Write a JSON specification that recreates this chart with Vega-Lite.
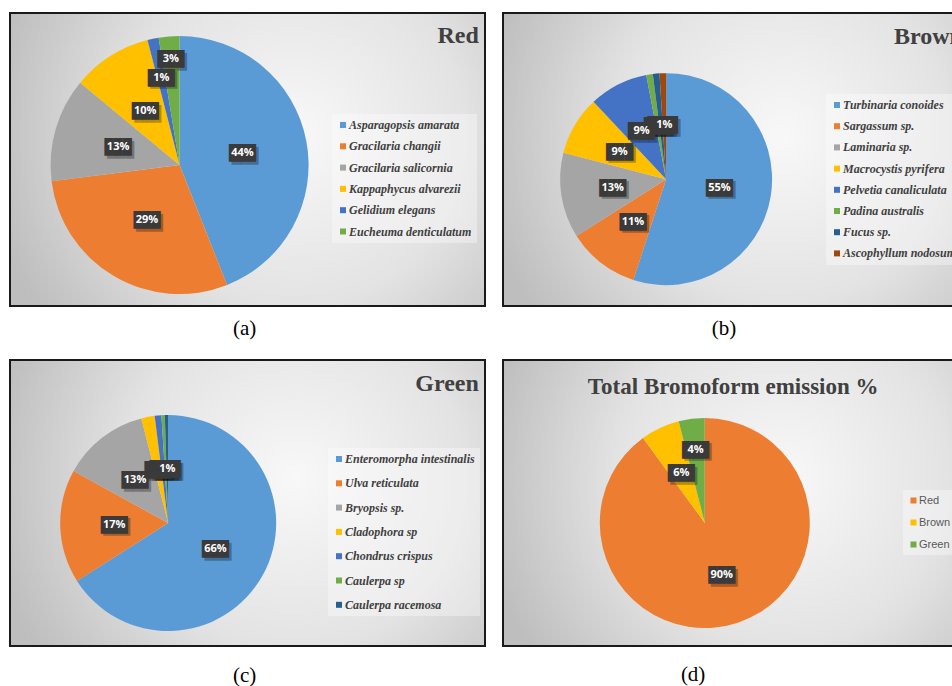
{
  "$schema": "https://vega.github.io/schema/vega-lite/v6.json",
  "padding": {"left": 9, "top": 12, "right": 0, "bottom": 0},
  "bounds": "flush",
  "columns": 2,
  "spacing": {"row": 54, "column": 18},
  "background": "white",
  "resolve": {"scale": {"color": "independent", "theta": "independent", "x": "independent", "y": "independent"}, "legend": {"color": "independent"}},
  "config": {
    "view": {"stroke": "#1a1a1a", "strokeWidth": 2,
      "fill": {"gradient": "radial", "x1": 0.6, "y1": 0.45, "x2": 0.6, "y2": 0.45, "r1": 0, "r2": 0.65,
        "stops": [{"offset": 0, "color": "#f8f8f8"}, {"offset": 0.55, "color": "#e3e3e3"}, {"offset": 1, "color": "#bebebe"}]}},
    "legend": {"orient": "none", "title": null, "labelFont": "Liberation Serif", "labelFontStyle": "italic", "labelFontWeight": "bold", "labelFontSize": 12, "labelColor": "#404040", "symbolType": "square", "symbolSize": 36, "symbolStrokeWidth": 0, "padding": 5, "fillColor": "rgba(255,255,255,0.35)", "labelOffset": 0, "labelLimit": 300}
  },
  "concat": [
        {
          "width": 475, "height": 293,
          "data": {"values": [
            {"i": 1, "name": "Asparagopsis amarata", "v": 0.44},
            {"i": 2, "name": "Gracilaria changii", "v": 0.29},
            {"i": 3, "name": "Gracilaria salicornia", "v": 0.13},
            {"i": 4, "name": "Kappaphycus alvarezii", "v": 0.10},
            {"i": 5, "name": "Gelidium elegans", "v": 0.014},
            {"i": 6, "name": "Eucheuma denticulatum", "v": 0.026}
          ]},
          "layer": [
            {"mark": {"type": "arc", "outerRadius": 129},
             "encoding": {
               "x": {"datum": 0.357, "type": "quantitative", "scale": {"domain": [0, 1]}, "axis": null},
               "y": {"datum": 0.519, "type": "quantitative", "scale": {"domain": [0, 1], "reverse": true}, "axis": null},
               "theta": {"field": "v", "type": "quantitative", "stack": true},
               "order": {"field": "i", "type": "quantitative"},
               "color": {"field": "name", "type": "nominal",
                 "scale": {"domain": ["Asparagopsis amarata", "Gracilaria changii", "Gracilaria salicornia", "Kappaphycus alvarezii", "Gelidium elegans", "Eucheuma denticulatum"],
                           "range": ["#5B9BD5", "#ED7D31", "#A5A5A5", "#FFC000", "#4472C4", "#70AD47"]},
                 "legend": {"legendX": 322, "legendY": 101, "rowPadding": 9.3}}
             }},
            {"mark": {"type": "text", "radius": {"expr": "datum.v < 0.02 ? 89 : datum.v < 0.05 ? 106 : 64"}, "font": "DejaVu Sans Mono", "fontSize": 15, "color": "rgba(0,0,0,0.28)", "dx": 2.5, "dy": 2.5, "align": "center", "baseline": "middle"},
             "encoding": {
               "x": {"datum": 0.357, "type": "quantitative", "scale": {"domain": [0, 1]}, "axis": null},
               "y": {"datum": 0.519, "type": "quantitative", "scale": {"domain": [0, 1], "reverse": true}, "axis": null},
               "theta": {"field": "v", "type": "quantitative", "stack": true},
               "order": {"field": "i", "type": "quantitative"},
               "text": {"value": "███"}
             }},
            {"mark": {"type": "text", "radius": {"expr": "datum.v < 0.02 ? 89 : datum.v < 0.05 ? 106 : 64"}, "font": "DejaVu Sans Mono", "fontSize": 15, "color": "#3a3a3a", "align": "center", "baseline": "middle"},
             "encoding": {
               "x": {"datum": 0.357, "type": "quantitative", "scale": {"domain": [0, 1]}, "axis": null},
               "y": {"datum": 0.519, "type": "quantitative", "scale": {"domain": [0, 1], "reverse": true}, "axis": null},
               "theta": {"field": "v", "type": "quantitative", "stack": true},
               "order": {"field": "i", "type": "quantitative"},
               "text": {"value": "███"}
             }},
            {"mark": {"type": "text", "radius": {"expr": "datum.v < 0.02 ? 89 : datum.v < 0.05 ? 106 : 64"}, "font": "Open Sans", "fontWeight": "bold", "fontSize": 11, "color": "#ffffff", "align": "center", "baseline": "middle"},
             "encoding": {
               "x": {"datum": 0.357, "type": "quantitative", "scale": {"domain": [0, 1]}, "axis": null},
               "y": {"datum": 0.519, "type": "quantitative", "scale": {"domain": [0, 1], "reverse": true}, "axis": null},
               "theta": {"field": "v", "type": "quantitative", "stack": true},
               "order": {"field": "i", "type": "quantitative"},
               "text": {"field": "v", "type": "quantitative", "format": ".0%"}
             }},
            {"data": {"values": [{"t": "Red"}]},
             "mark": {"type": "text", "font": "Liberation Serif", "fontWeight": "bold", "fontSize": 24, "color": "#404040", "align": "right", "baseline": "alphabetic"},
             "encoding": {
               "x": {"datum": 0.987, "type": "quantitative", "scale": {"domain": [0, 1]}, "axis": null},
               "y": {"datum": 0.101, "type": "quantitative", "scale": {"domain": [0, 1], "reverse": true}, "axis": null},
               "text": {"field": "t"}
             }},
            {"data": {"values": [{"t": "(a)"}]},
             "mark": {"type": "text", "font": "Liberation Serif", "fontSize": 21, "color": "#000000", "align": "center", "baseline": "middle"},
             "encoding": {
               "x": {"datum": 0.494, "type": "quantitative", "scale": {"domain": [0, 1]}, "axis": null},
               "y": {"datum": 1.08, "type": "quantitative", "scale": {"domain": [0, 1], "reverse": true}, "axis": null},
               "text": {"field": "t"}
             }}
          ]
        },
        {
          "width": 466, "height": 293,
          "data": {"values": [
            {"i": 1, "name": "Turbinaria conoides", "v": 0.55},
            {"i": 2, "name": "Sargassum sp.", "v": 0.11},
            {"i": 3, "name": "Laminaria sp.", "v": 0.13},
            {"i": 4, "name": "Macrocystis pyrifera", "v": 0.09},
            {"i": 5, "name": "Pelvetia canaliculata", "v": 0.09},
            {"i": 6, "name": "Padina australis", "v": 0.01},
            {"i": 7, "name": "Fucus sp.", "v": 0.01},
            {"i": 8, "name": "Ascophyllum nodosum", "v": 0.01}
          ]},
          "layer": [
            {"mark": {"type": "arc", "outerRadius": 106},
             "encoding": {
               "x": {"datum": 0.350, "type": "quantitative", "scale": {"domain": [0, 1]}, "axis": null},
               "y": {"datum": 0.567, "type": "quantitative", "scale": {"domain": [0, 1], "reverse": true}, "axis": null},
               "theta": {"field": "v", "type": "quantitative", "stack": true},
               "order": {"field": "i", "type": "quantitative"},
               "color": {"field": "name", "type": "nominal",
                 "scale": {"domain": ["Turbinaria conoides", "Sargassum sp.", "Laminaria sp.", "Macrocystis pyrifera", "Pelvetia canaliculata", "Padina australis", "Fucus sp.", "Ascophyllum nodosum"],
                           "range": ["#5B9BD5", "#ED7D31", "#A5A5A5", "#FFC000", "#4472C4", "#70AD47", "#255E91", "#9E480E"]},
                 "legend": {"legendX": 323, "legendY": 81, "rowPadding": 9.2}}
             }},
            {"mark": {"type": "text", "radius": 54, "font": "DejaVu Sans Mono", "fontSize": 15, "color": "rgba(0,0,0,0.28)", "dx": 2.5, "dy": 2.5, "align": "center", "baseline": "middle"},
             "encoding": {
               "x": {"datum": 0.350, "type": "quantitative", "scale": {"domain": [0, 1]}, "axis": null},
               "y": {"datum": 0.567, "type": "quantitative", "scale": {"domain": [0, 1], "reverse": true}, "axis": null},
               "theta": {"field": "v", "type": "quantitative", "stack": true},
               "order": {"field": "i", "type": "quantitative"},
               "text": {"value": "███"}
             }},
            {"mark": {"type": "text", "radius": 54, "font": "DejaVu Sans Mono", "fontSize": 15, "color": "#3a3a3a", "align": "center", "baseline": "middle"},
             "encoding": {
               "x": {"datum": 0.350, "type": "quantitative", "scale": {"domain": [0, 1]}, "axis": null},
               "y": {"datum": 0.567, "type": "quantitative", "scale": {"domain": [0, 1], "reverse": true}, "axis": null},
               "theta": {"field": "v", "type": "quantitative", "stack": true},
               "order": {"field": "i", "type": "quantitative"},
               "text": {"value": "███"}
             }},
            {"mark": {"type": "text", "radius": 54, "font": "Open Sans", "fontWeight": "bold", "fontSize": 11, "color": "#ffffff", "align": "center", "baseline": "middle"},
             "encoding": {
               "x": {"datum": 0.350, "type": "quantitative", "scale": {"domain": [0, 1]}, "axis": null},
               "y": {"datum": 0.567, "type": "quantitative", "scale": {"domain": [0, 1], "reverse": true}, "axis": null},
               "theta": {"field": "v", "type": "quantitative", "stack": true},
               "order": {"field": "i", "type": "quantitative"},
               "opacity": {"condition": {"test": "datum.name === 'Padina australis' || datum.name === 'Fucus sp.'", "value": 0}, "value": 1},
               "text": {"field": "v", "type": "quantitative", "format": ".0%"}
             }},
            {"data": {"values": [{"t": "Brown"}]},
             "mark": {"type": "text", "font": "Liberation Serif", "fontWeight": "bold", "fontSize": 24, "color": "#404040", "align": "right", "baseline": "alphabetic"},
             "encoding": {
               "x": {"datum": 0.987, "type": "quantitative", "scale": {"domain": [0, 1]}, "axis": null},
               "y": {"datum": 0.106, "type": "quantitative", "scale": {"domain": [0, 1], "reverse": true}, "axis": null},
               "text": {"field": "t"}
             }},
            {"data": {"values": [{"t": "(b)"}]},
             "mark": {"type": "text", "font": "Liberation Serif", "fontSize": 21, "color": "#000000", "align": "center", "baseline": "middle"},
             "encoding": {
               "x": {"datum": 0.474, "type": "quantitative", "scale": {"domain": [0, 1]}, "axis": null},
               "y": {"datum": 1.08, "type": "quantitative", "scale": {"domain": [0, 1], "reverse": true}, "axis": null},
               "text": {"field": "t"}
             }}
          ]
        },
        {
          "width": 475, "height": 286,
          "data": {"values": [
            {"i": 1, "name": "Enteromorpha intestinalis", "v": 0.66},
            {"i": 2, "name": "Ulva reticulata", "v": 0.17},
            {"i": 3, "name": "Bryopsis sp.", "v": 0.13},
            {"i": 4, "name": "Cladophora sp", "v": 0.02},
            {"i": 5, "name": "Chondrus crispus", "v": 0.01},
            {"i": 6, "name": "Caulerpa sp", "v": 0.005},
            {"i": 7, "name": "Caulerpa racemosa", "v": 0.005}
          ]},
          "layer": [
            {"mark": {"type": "arc", "outerRadius": 108},
             "encoding": {
               "x": {"datum": 0.333, "type": "quantitative", "scale": {"domain": [0, 1]}, "axis": null},
               "y": {"datum": 0.570, "type": "quantitative", "scale": {"domain": [0, 1], "reverse": true}, "axis": null},
               "theta": {"field": "v", "type": "quantitative", "stack": true},
               "order": {"field": "i", "type": "quantitative"},
               "color": {"field": "name", "type": "nominal",
                 "scale": {"domain": ["Enteromorpha intestinalis", "Ulva reticulata", "Bryopsis sp.", "Cladophora sp", "Chondrus crispus", "Caulerpa sp", "Caulerpa racemosa"],
                           "range": ["#5B9BD5", "#ED7D31", "#A5A5A5", "#FFC000", "#4472C4", "#70AD47", "#255E91"]},
                 "legend": {"legendX": 318, "legendY": 88, "rowPadding": 12.3}}
             }},
            {"mark": {"type": "text", "radius": 54, "font": "DejaVu Sans Mono", "fontSize": 15, "color": "rgba(0,0,0,0.28)", "dx": 2.5, "dy": 2.5, "align": "center", "baseline": "middle"},
             "encoding": {
               "x": {"datum": 0.333, "type": "quantitative", "scale": {"domain": [0, 1]}, "axis": null},
               "y": {"datum": 0.570, "type": "quantitative", "scale": {"domain": [0, 1], "reverse": true}, "axis": null},
               "theta": {"field": "v", "type": "quantitative", "stack": true},
               "order": {"field": "i", "type": "quantitative"},
               "text": {"value": "███"}
             }},
            {"mark": {"type": "text", "radius": 54, "font": "DejaVu Sans Mono", "fontSize": 15, "color": "#3a3a3a", "align": "center", "baseline": "middle"},
             "encoding": {
               "x": {"datum": 0.333, "type": "quantitative", "scale": {"domain": [0, 1]}, "axis": null},
               "y": {"datum": 0.570, "type": "quantitative", "scale": {"domain": [0, 1], "reverse": true}, "axis": null},
               "theta": {"field": "v", "type": "quantitative", "stack": true},
               "order": {"field": "i", "type": "quantitative"},
               "text": {"value": "███"}
             }},
            {"mark": {"type": "text", "radius": 54, "font": "Open Sans", "fontWeight": "bold", "fontSize": 11, "color": "#ffffff", "align": "center", "baseline": "middle"},
             "encoding": {
               "x": {"datum": 0.333, "type": "quantitative", "scale": {"domain": [0, 1]}, "axis": null},
               "y": {"datum": 0.570, "type": "quantitative", "scale": {"domain": [0, 1], "reverse": true}, "axis": null},
               "theta": {"field": "v", "type": "quantitative", "stack": true},
               "order": {"field": "i", "type": "quantitative"},
               "opacity": {"condition": {"test": "datum.name === 'Cladophora sp' || datum.name === 'Chondrus crispus' || datum.name === 'Caulerpa sp'", "value": 0}, "value": 1},
               "text": {"field": "v", "type": "quantitative", "format": ".0%"}
             }},
            {"data": {"values": [{"t": "Green"}]},
             "mark": {"type": "text", "font": "Liberation Serif", "fontWeight": "bold", "fontSize": 24, "color": "#404040", "align": "right", "baseline": "alphabetic"},
             "encoding": {
               "x": {"datum": 0.987, "type": "quantitative", "scale": {"domain": [0, 1]}, "axis": null},
               "y": {"datum": 0.108, "type": "quantitative", "scale": {"domain": [0, 1], "reverse": true}, "axis": null},
               "text": {"field": "t"}
             }},
            {"data": {"values": [{"t": "(c)"}]},
             "mark": {"type": "text", "font": "Liberation Serif", "fontSize": 21, "color": "#000000", "align": "center", "baseline": "middle"},
             "encoding": {
               "x": {"datum": 0.494, "type": "quantitative", "scale": {"domain": [0, 1]}, "axis": null},
               "y": {"datum": 1.105, "type": "quantitative", "scale": {"domain": [0, 1], "reverse": true}, "axis": null},
               "text": {"field": "t"}
             }}
          ]
        },
        {
          "width": 466, "height": 286,
          "data": {"values": [
            {"i": 1, "name": "Red", "v": 0.90},
            {"i": 2, "name": "Brown", "v": 0.06},
            {"i": 3, "name": "Green", "v": 0.04}
          ]},
          "layer": [
            {"mark": {"type": "arc", "outerRadius": 105},
             "encoding": {
               "x": {"datum": 0.433, "type": "quantitative", "scale": {"domain": [0, 1]}, "axis": null},
               "y": {"datum": 0.570, "type": "quantitative", "scale": {"domain": [0, 1], "reverse": true}, "axis": null},
               "theta": {"field": "v", "type": "quantitative", "stack": true},
               "order": {"field": "i", "type": "quantitative"},
               "color": {"field": "name", "type": "nominal",
                 "scale": {"domain": ["Red", "Brown", "Green"], "range": ["#ED7D31", "#FFC000", "#70AD47"]},
                 "legend": {"legendX": 400, "legendY": 130, "rowPadding": 10, "labelFont": "Liberation Sans", "labelFontStyle": "normal", "labelFontWeight": "normal", "labelFontSize": 11, "labelColor": "#595959"}}
             }},
            {"mark": {"type": "text", "radius": {"expr": "datum.v < 0.05 ? 74 : 55"}, "font": "DejaVu Sans Mono", "fontSize": 15, "color": "rgba(0,0,0,0.28)", "dx": 2.5, "dy": 2.5, "align": "center", "baseline": "middle"},
             "encoding": {
               "x": {"datum": 0.433, "type": "quantitative", "scale": {"domain": [0, 1]}, "axis": null},
               "y": {"datum": 0.570, "type": "quantitative", "scale": {"domain": [0, 1], "reverse": true}, "axis": null},
               "theta": {"field": "v", "type": "quantitative", "stack": true},
               "order": {"field": "i", "type": "quantitative"},
               "text": {"value": "███"}
             }},
            {"mark": {"type": "text", "radius": {"expr": "datum.v < 0.05 ? 74 : 55"}, "font": "DejaVu Sans Mono", "fontSize": 15, "color": "#3a3a3a", "align": "center", "baseline": "middle"},
             "encoding": {
               "x": {"datum": 0.433, "type": "quantitative", "scale": {"domain": [0, 1]}, "axis": null},
               "y": {"datum": 0.570, "type": "quantitative", "scale": {"domain": [0, 1], "reverse": true}, "axis": null},
               "theta": {"field": "v", "type": "quantitative", "stack": true},
               "order": {"field": "i", "type": "quantitative"},
               "text": {"value": "███"}
             }},
            {"mark": {"type": "text", "radius": {"expr": "datum.v < 0.05 ? 74 : 55"}, "font": "Open Sans", "fontWeight": "bold", "fontSize": 11, "color": "#ffffff", "align": "center", "baseline": "middle"},
             "encoding": {
               "x": {"datum": 0.433, "type": "quantitative", "scale": {"domain": [0, 1]}, "axis": null},
               "y": {"datum": 0.570, "type": "quantitative", "scale": {"domain": [0, 1], "reverse": true}, "axis": null},
               "theta": {"field": "v", "type": "quantitative", "stack": true},
               "order": {"field": "i", "type": "quantitative"},
               "text": {"field": "v", "type": "quantitative", "format": ".0%"}
             }},
            {"data": {"values": [{"t": "Total Bromoform emission %"}]},
             "mark": {"type": "text", "font": "Liberation Serif", "fontWeight": "bold", "fontSize": 23, "color": "#404040", "align": "center", "baseline": "alphabetic"},
             "encoding": {
               "x": {"datum": 0.494, "type": "quantitative", "scale": {"domain": [0, 1]}, "axis": null},
               "y": {"datum": 0.119, "type": "quantitative", "scale": {"domain": [0, 1], "reverse": true}, "axis": null},
               "text": {"field": "t"}
             }},
            {"data": {"values": [{"t": "(d)"}]},
             "mark": {"type": "text", "font": "Liberation Serif", "fontSize": 21, "color": "#000000", "align": "center", "baseline": "middle"},
             "encoding": {
               "x": {"datum": 0.408, "type": "quantitative", "scale": {"domain": [0, 1]}, "axis": null},
               "y": {"datum": 1.101, "type": "quantitative", "scale": {"domain": [0, 1], "reverse": true}, "axis": null},
               "text": {"field": "t"}
             }}
          ]
        }
  ]
}
